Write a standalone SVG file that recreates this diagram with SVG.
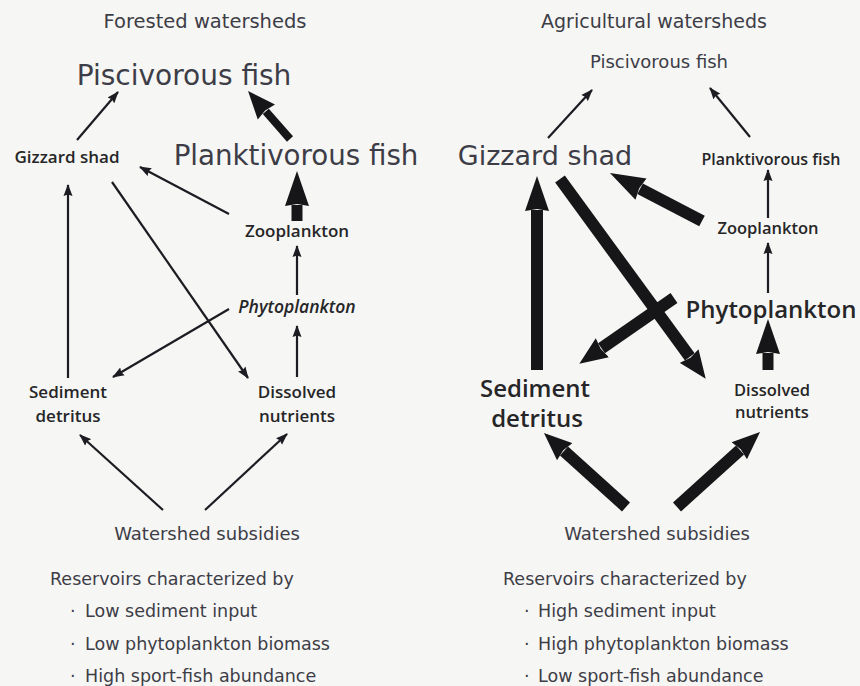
<svg xmlns="http://www.w3.org/2000/svg" width="860" height="686" viewBox="0 0 860 686">
<style>
.t{font-family:"DejaVu Sans","Liberation Sans",sans-serif;fill:#3d3d47;text-anchor:middle}
.b{font-family:"Open Sans","Liberation Sans",sans-serif;font-weight:600;fill:#262628;text-anchor:middle}
.l{font-family:"DejaVu Sans","Liberation Sans",sans-serif;fill:#3d3d47;font-size:17.5px}
.thin{stroke:#1c1c22;stroke-width:2.2;fill:none;marker-end:url(#hs)}
.thick{stroke:#161618;fill:none;marker-end:url(#hb)}
.med{stroke:#161618;fill:none;marker-end:url(#hm)}
</style>
<defs>
<marker id="hs" markerUnits="userSpaceOnUse" viewBox="0 -5 12 10" refX="11" refY="0" markerWidth="12" markerHeight="10" orient="auto">
<path d="M0,-4.5 L12,0 L0,4.5 L1.5,0 z" fill="#1c1c22"/>
</marker>
<marker id="hb" markerUnits="userSpaceOnUse" viewBox="0 -13 36 26" refX="1" refY="0" markerWidth="36" markerHeight="26" orient="auto">
<path d="M0,-12 L35,0 L0,12 L2,0 z" fill="#161618"/>
</marker>
<marker id="hm" markerUnits="userSpaceOnUse" viewBox="0 -12 30 24" refX="1" refY="0" markerWidth="30" markerHeight="24" orient="auto">
<path d="M0,-11.5 L28,0 L0,11.5 L2,0 z" fill="#161618"/>
</marker>
</defs>
<rect width="860" height="686" fill="#f6f6f4"/>

<!-- Left panel -->
<g id="title-left"><text class="t" x="205" y="28" font-size="19.5">Forested watersheds</text></g>
<g id="L-piscivorous"><text class="t" x="184" y="85" font-size="28">Piscivorous fish</text></g>
<g id="L-planktivorous"><text class="t" x="296" y="165" font-size="27.7">Planktivorous fish</text></g>
<g id="L-gizzard"><text class="b" x="67" y="163" font-size="17">Gizzard shad</text></g>
<g id="L-zooplankton"><text class="b" x="297" y="237" font-size="17">Zooplankton</text></g>
<g id="L-phytoplankton"><text class="b" x="297" y="313" font-size="17.5" font-style="italic" font-weight="500">Phytoplankton</text></g>
<g id="L-sediment"><text class="b" x="68" y="398" font-size="17">Sediment</text><text class="b" x="68" y="422" font-size="17">detritus</text></g>
<g id="L-dissolved"><text class="b" x="297" y="398" font-size="17">Dissolved</text><text class="b" x="297" y="422" font-size="17">nutrients</text></g>
<g id="L-subsidies"><text class="t" x="207" y="540" font-size="18">Watershed subsidies</text></g>
<g id="L-notes">
<text class="l" x="50" y="585">Reservoirs characterized by</text>
<text class="l" y="617"><tspan x="70">·</tspan><tspan x="85">Low sediment input</tspan></text>
<text class="l" y="650"><tspan x="70">·</tspan><tspan x="85">Low phytoplankton biomass</tspan></text>
<text class="l" y="682"><tspan x="70">·</tspan><tspan x="85">High sport-fish abundance</tspan></text>
</g>

<!-- Right panel -->
<g id="title-right"><text class="t" x="654" y="28" font-size="19">Agricultural watersheds</text></g>
<g id="R-piscivorous"><text class="t" x="659" y="68" font-size="18">Piscivorous fish</text></g>
<g id="R-gizzard"><text class="t" x="545" y="165" font-size="27">Gizzard shad</text></g>
<g id="R-planktivorous"><text class="b" x="771" y="165" font-size="16">Planktivorous fish</text></g>
<g id="R-zooplankton"><text class="b" x="768" y="234" font-size="16.5">Zooplankton</text></g>
<g id="R-phytoplankton"><text class="b" x="771" y="318" font-size="24">Phytoplankton</text></g>
<g id="R-sediment"><text class="b" x="535" y="397" font-size="24">Sediment</text><text class="b" x="537" y="427" font-size="24">detritus</text></g>
<g id="R-dissolved"><text class="b" x="772" y="396" font-size="16.5">Dissolved</text><text class="b" x="772" y="418" font-size="16.5">nutrients</text></g>
<g id="R-subsidies"><text class="t" x="657" y="540" font-size="18">Watershed subsidies</text></g>
<g id="R-notes">
<text class="l" x="503" y="585">Reservoirs characterized by</text>
<text class="l" y="617"><tspan x="524">·</tspan><tspan x="538">High sediment input</tspan></text>
<text class="l" y="650"><tspan x="524">·</tspan><tspan x="538">High phytoplankton biomass</tspan></text>
<text class="l" y="682"><tspan x="524">·</tspan><tspan x="538">Low sport-fish abundance</tspan></text>
</g>

<g id="connectors">
<!-- left thin -->
<line class="thin" x1="77" y1="140" x2="118" y2="92"/>
<line class="thin" x1="229" y1="214" x2="140" y2="167"/>
<line class="thin" x1="112" y1="182" x2="248" y2="378"/>
<line class="thin" x1="68" y1="378" x2="68" y2="185"/>
<line class="thin" x1="229" y1="309" x2="113" y2="377"/>
<line class="thin" x1="297" y1="377" x2="297" y2="326"/>
<line class="thin" x1="297" y1="295" x2="297" y2="246"/>
<line class="thin" x1="163" y1="510" x2="80" y2="435"/>
<line class="thin" x1="205" y1="510" x2="287" y2="434"/>
<!-- left thick -->
<line class="med" stroke-width="8" x1="290" y1="139" x2="265.8" y2="111.3"/>
<line class="thick" stroke-width="11" x1="297" y1="221" x2="297" y2="205"/>
<!-- right thin -->
<line class="thin" x1="548" y1="138" x2="592" y2="90"/>
<line class="thin" x1="750" y1="137" x2="710" y2="88"/>
<line class="thin" x1="768" y1="218" x2="768" y2="170"/>
<line class="thin" x1="768" y1="293" x2="768" y2="243"/>
<!-- right thick -->
<line class="thick" stroke-width="12" x1="702" y1="221" x2="640.1" y2="188.7"/>
<line class="thick" stroke-width="12" x1="537" y1="370" x2="537" y2="210"/>
<line class="med" stroke-width="12" x1="560" y1="179" x2="689.8" y2="356.9"/>
<line class="med" stroke-width="12" x1="674" y1="298" x2="601.5" y2="348.3"/>
<line class="thick" stroke-width="11" x1="768" y1="370" x2="768" y2="353"/>
<line class="med" stroke-width="12" x1="626" y1="507" x2="564" y2="451"/>
<line class="med" stroke-width="12" x1="677" y1="507" x2="740" y2="450"/>
</g>
</svg>
